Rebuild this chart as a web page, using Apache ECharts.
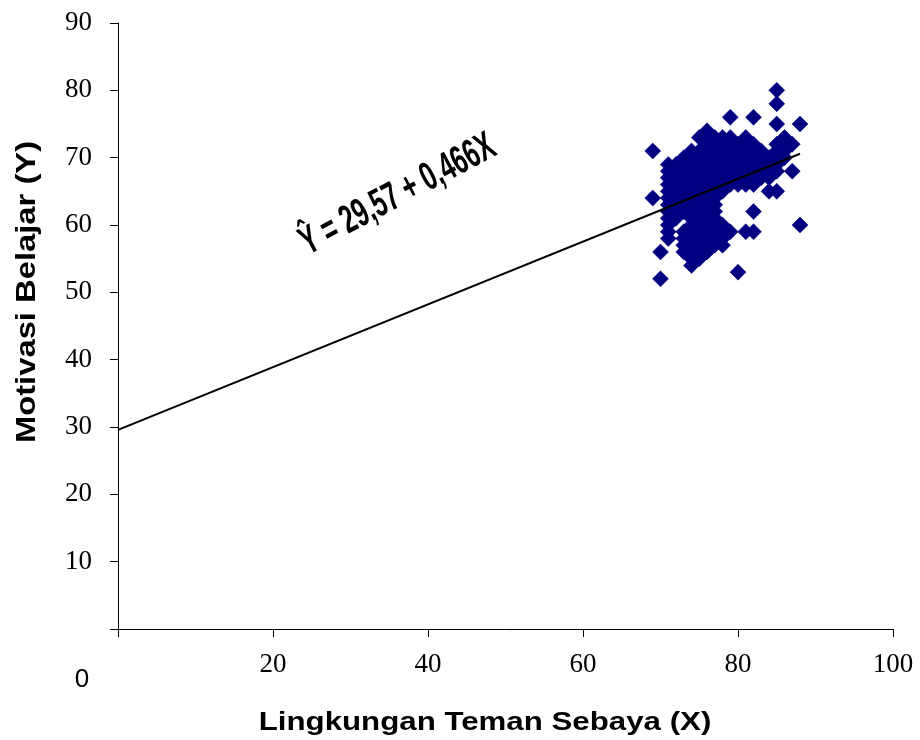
<!DOCTYPE html>
<html>
<head>
<meta charset="utf-8">
<script src="https://cdn.jsdelivr.net/npm/echarts@6/dist/echarts.min.js"></script>
<style>html,body{margin:0;padding:0;background:#fff}#c{width:920px;height:740px}</style>
</head>
<body>
<div id="c"></div>
<script>
const xValues = [69,70,71,72,73,74,75,76,77,78,79,80,81,82,83,84,85,86,87,88];
const yByX = [
  [64,71],
  [52,56],
  [58,59,60,61,62,63,64,65,66,67,68,69],
  [61,62,63,64,65,66,67,68,69],
  [56,57,58,59,62,63,64,65,66,67,68,69,70],
  [54,55,56,57,58,59,60,61,62,63,64,65,66,67,68,69,70,71],
  [55,56,57,58,59,60,61,62,63,64,65,66,67,68,69,70,71,73],
  [56,57,58,59,60,61,62,63,64,65,66,67,68,69,71,72,74],
  [57,58,59,60,61,62,63,64,65,66,67,68,69,70,72,73],
  [57,58,59,60,65,66,67,69,70,71,72,73],
  [59,66,67,68,69,70,71,72,73,76],
  [53,66,67,68,69,70,71,72],
  [59,66,67,68,69,70,71,72,73],
  [59,62,66,67,68,69,70,71,72,76],
  [67,68,69,70,71],
  [65,67,68,69,70],
  [65,68,69,70,71,72,75,78,80],
  [70,71,72,73],
  [68,72],
  [60,75]
];
const intercept = 29.57;
const slope = 0.466;
const lineX = [0, 88];
const xTicks = [0,20,40,60,80,100];
const yTicks = [0,10,20,30,40,50,60,70,80,90];
const equationText = 'Ŷ = 29,57 + 0,466X';
const xTitle = 'Lingkungan Teman Sebaya (X)';
const yTitle = 'Motivasi Belajar (Y)';

const points = [];
xValues.forEach((x, i) => yByX[i].forEach(y => points.push([x, y])));
const linePts = lineX.map(x => [x, +(intercept + slope * x).toFixed(3)]);

const chart = echarts.init(document.getElementById('c'), null, {renderer: 'canvas'});
chart.setOption({
  animation: false,
  backgroundColor: '#fff',
  grid: {left: 118, right: 27, top: 23, bottom: 111, containLabel: false},
  xAxis: {
    type: 'value', min: xTicks[0], max: xTicks[xTicks.length-1], interval: 20,
    axisLine: {show: true, onZero: false, lineStyle: {color: '#000', width: 1}},
    axisTick: {show: true, length: 8, lineStyle: {color: '#000'}},
    splitLine: {show: false},
    axisLabel: {
      color: '#000', fontFamily: 'Liberation Serif', fontSize: 27, margin: 22,
      formatter: v => v === 0 ? '' : String(v)
    }
  },
  yAxis: {
    type: 'value', min: yTicks[0], max: yTicks[yTicks.length-1], interval: 10,
    axisLine: {show: true, onZero: false, lineStyle: {color: '#000', width: 1}},
    axisTick: {show: true, length: 8, lineStyle: {color: '#000'}},
    splitLine: {show: false},
    axisLabel: {
      color: '#000', fontFamily: 'Liberation Serif', fontSize: 27, margin: 26,
      formatter: v => v === 0 ? '' : String(v)
    }
  },
  series: [
    {
      type: 'scatter', data: points, symbol: 'diamond', symbolSize: 16,
      itemStyle: {color: '#000080', opacity: 1, borderColor: '#000080', borderWidth: 0.5},
      emphasis: {disabled: true}, z: 2, silent: true
    },
    {
      type: 'line', data: linePts, showSymbol: false, symbol: 'none',
      lineStyle: {color: '#000', width: 2}, z: 3, silent: true
    }
  ],
  graphic: [
    {type: 'text', x: 82, y: 680, style: {text: '0', fontFamily: 'Liberation Sans', fontSize: 26, fill: '#000', textAlign: 'center', textVerticalAlign: 'middle'}},
    {type: 'text', x: 485, y: 723, scaleX: 1.25, style: {text: xTitle, fontFamily: 'Liberation Sans', fontWeight: 'bold', fontSize: 25, fill: '#000', textAlign: 'center', textVerticalAlign: 'middle'}},
    {type: 'text', x: 27, y: 292, rotation: Math.PI/2, scaleX: 1.17, style: {text: yTitle, fontFamily: 'Liberation Sans', fontWeight: 'bold', fontSize: 28, fill: '#000', textAlign: 'center', textVerticalAlign: 'middle'}},
    {type: 'text', x: 398, y: 195, rotation: 28*Math.PI/180, scaleY: 1.6, style: {text: equationText, fontFamily: 'Liberation Sans', fontWeight: 'bold', fontSize: 25, fill: '#000', textAlign: 'center', textVerticalAlign: 'middle'}}
  ]
});
</script>
</body>
</html>
